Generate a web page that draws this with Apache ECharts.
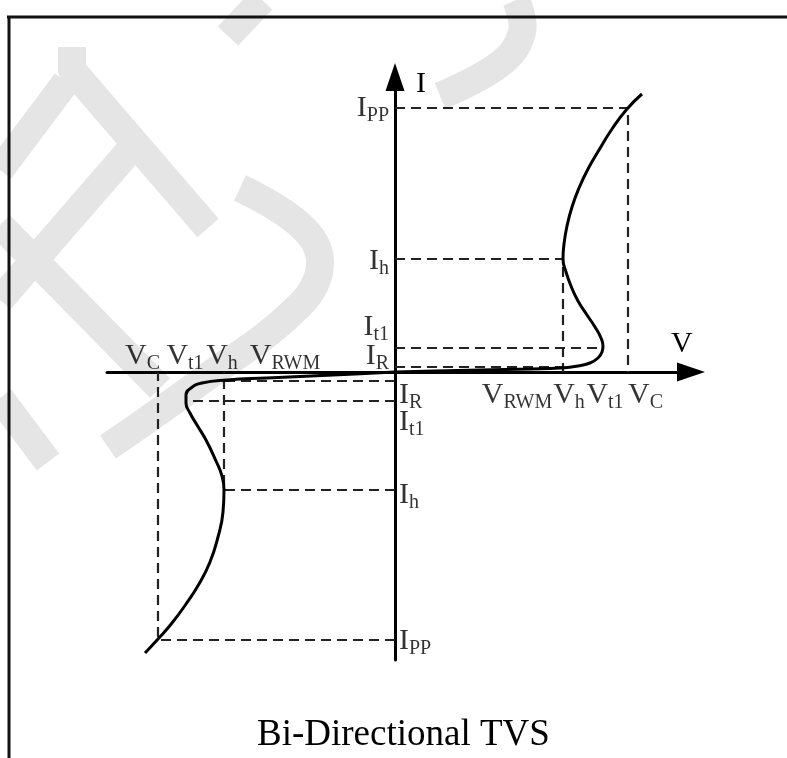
<!DOCTYPE html>
<html>
<head>
<meta charset="utf-8">
<script src="https://cdn.jsdelivr.net/npm/echarts@6/dist/echarts.min.js"></script>
<style>html,body{margin:0;padding:0;background:#fff}#c{width:787px;height:758px}</style>
</head>
<body>
<div id="c"></div>
<script>
// ---- Data (schematic units, origin at the axes crossing) ----
// Positive (first-quadrant) branch of the I-V curve: [V, I]
const posBranch = [[0,0],[40,1],[85,2],[135,3],[165,4],[183,6],[195,9],[203,14],[207,20],[208,26],[206,34],[200,45],[192,57],[183,71],[176,86],[171,100],[168,113],[169,128],[172,146],[177,165],[184,184],[193,203],[204,222],[217,243],[232,263],[247,278]];
// Negative (third-quadrant) branch: [V, I]
const negBranch = [[0,0],[-40,-2],[-128,-6],[-168,-8],[-193,-11],[-204,-16],[-209,-23],[-209,-31],[-205,-41],[-198,-53],[-189,-68],[-179,-89],[-173,-104],[-171,-118],[-172,-140],[-177,-165],[-185,-190],[-196,-212],[-209,-232],[-223,-251],[-237,-267],[-250,-281]];

// Characteristic voltages (subscript names and values)
const vNames = ['RWM', 'h', 't1', 'C'];
const vPosValues = [122, 168, 208, 233];
const vNegValues = [-110, -171, -210, -237];
// Characteristic currents
const iNames = ['R', 't1', 'h', 'PP'];
const iPosValues = [5, 24, 113, 264];
const iNegValues = [-9, -29, -118, -268];

const axisMin = { x: -288, y: -288 };
const axisMax = { x: 296, y: 295 };
const titleText = 'Bi-Directional TVS';

// ---- helpers ----
const FONT = '"Liberation Serif", "Times New Roman", serif';
const rich = {
  m: { fontFamily: FONT, fontSize: 30, lineHeight: 33, verticalAlign: 'top', color: '#000' },
  s: { fontFamily: FONT, fontSize: 20, lineHeight: 33, verticalAlign: 'bottom', color: '#000' }
};
function labelItem(x, y, main, sub, align, dx, dy) {
  return {
    value: [x, y],
    label: {
      show: true, position: 'inside', align: align, verticalAlign: 'top',
      offset: [dx, dy], formatter: '{m|' + main + '}{s|' + sub + '}', rich: rich
    }
  };
}
const V = (i) => vPosValues[vNames.indexOf(i)];
const Vn = (i) => vNegValues[vNames.indexOf(i)];
const I = (i) => iPosValues[iNames.indexOf(i)];
const In = (i) => iNegValues[iNames.indexOf(i)];

// dashed guide segments built from the characteristic values
const guides = [
  [[0, I('PP')], [V('C'), I('PP')], [V('C'), 0]],
  [[0, I('h')], [V('h'), I('h')], [V('h'), 0]],
  [[0, I('t1')], [V('t1'), I('t1')]],
  [[0, I('R')], [V('h'), I('R')]],
  [[0, In('PP')], [Vn('C'), In('PP')], [Vn('C'), 0]],
  [[0, In('h')], [Vn('h'), In('h')], [Vn('h'), 0]],
  [[0, In('t1')], [Vn('t1'), In('t1')]],
  [[0, In('R')], [Vn('h'), In('R')]]
];

// label styling offsets (pixels)
const vPosOff = { RWM: ['center', 0], h: ['center', 6], t1: ['center', 2], C: ['left', 0] };
const vNegOff = { RWM: ['center', 0], h: ['center', -2], t1: ['center', 0], C: ['right', 2] };
const iPosDy = { R: -26, t1: -36, h: -13, PP: -15 };
const iNegDy = { R: -1, t1: 6, h: -10, PP: -14 };

const labels = [];
vNames.forEach((n, k) => {
  labels.push(labelItem(vPosValues[k], 0, 'V', n, vPosOff[n][0], vPosOff[n][1], 8));
  labels.push(labelItem(vNegValues[k], 0, 'V', n, vNegOff[n][0], vNegOff[n][1], -31));
});
iNames.forEach((n, k) => {
  labels.push(labelItem(0, iPosValues[k], 'I', n, 'right', -6, iPosDy[n]));
  labels.push(labelItem(0, iNegValues[k], 'I', n, 'left', 4, iNegDy[n]));
});

// faint background watermark strokes
const wm = { stroke: '#e5e5e5', lineWidth: 28, fill: null, lineCap: 'butt', lineJoin: 'round' };
const watermark = [
  [[72, 47], [72, 70], [208, 228]],
  [[66, 82], [0, 170]],
  [[130, 150], [0, 300]],
  [[0, 225], [160, 388]],
  [[0, 398], [48, 462]],
  [[240, 188], [300, 225], [320, 262], [300, 305], [200, 382], [108, 447]],
  [[228, 36], [262, 0]],
  [[440, 96], [500, 64], [522, 32], [516, 0]]
].map((pts, k) => ({
  type: 'polyline', z: -10, silent: true,
  shape: { points: pts, smooth: k >= 5 ? 0.4 : 0 },
  style: wm
}));

const chart = echarts.init(document.getElementById('c'), null, { renderer: 'canvas' });
chart.setOption({
  animation: false,
  backgroundColor: '#fff',
  title: {
    text: titleText, left: 252, top: 712, padding: 5,
    textStyle: { fontFamily: FONT, fontSize: 37, fontWeight: 'normal', color: '#000' }
  },
  graphic: watermark.concat([
    { type: 'line', shape: { x1: 7, y1: 17, x2: 787, y2: 17 }, style: { stroke: '#111', lineWidth: 3 } },
    { type: 'line', shape: { x1: 9, y1: 16, x2: 9, y2: 758 }, style: { stroke: '#111', lineWidth: 3 } }
  ]),
  grid: { left: 107, right: 96, top: 77, bottom: 98, containLabel: false, outerBoundsMode: 'none' },
  xAxis: {
    type: 'value', min: axisMin.x, max: axisMax.x,
    name: 'V', nameLocation: 'end', nameGap: -20,
    nameTextStyle: { fontFamily: FONT, fontSize: 30, color: '#000', align: 'left', verticalAlign: 'bottom', padding: [0, 0, 13, 0] },
    axisLine: { onZero: true, symbol: ['none', 'triangle'], symbolSize: [19, 28], lineStyle: { color: '#000', width: 3 } },
    axisTick: { show: false }, axisLabel: { show: false }, splitLine: { show: false }
  },
  yAxis: {
    type: 'value', min: axisMin.y, max: axisMax.y,
    name: 'I', nameLocation: 'end', nameGap: 8,
    nameTextStyle: { fontFamily: FONT, fontSize: 30, color: '#000', align: 'left', verticalAlign: 'top', padding: [0, 0, 0, 21] },
    axisLine: { onZero: true, symbol: ['none', 'triangle'], symbolSize: [19, 28], lineStyle: { color: '#000', width: 3 } },
    axisTick: { show: false }, axisLabel: { show: false }, splitLine: { show: false }
  },
  series: [
    ...guides.map(g => ({
      type: 'line', data: g, showSymbol: false, silent: true, z: 3,
      lineStyle: { color: '#222', width: 2.2, type: [10, 6] }
    })),
    { type: 'line', data: posBranch, smooth: 0.5, showSymbol: false, silent: true, z: 5, lineStyle: { color: '#000', width: 3 } },
    { type: 'line', data: negBranch, smooth: 0.5, showSymbol: false, silent: true, z: 5, lineStyle: { color: '#000', width: 3 } },
    { type: 'scatter', data: labels, symbolSize: 1, silent: true, z: 6, itemStyle: { color: 'rgba(0,0,0,0)' } }
  ]
});
</script>
</body>
</html>
